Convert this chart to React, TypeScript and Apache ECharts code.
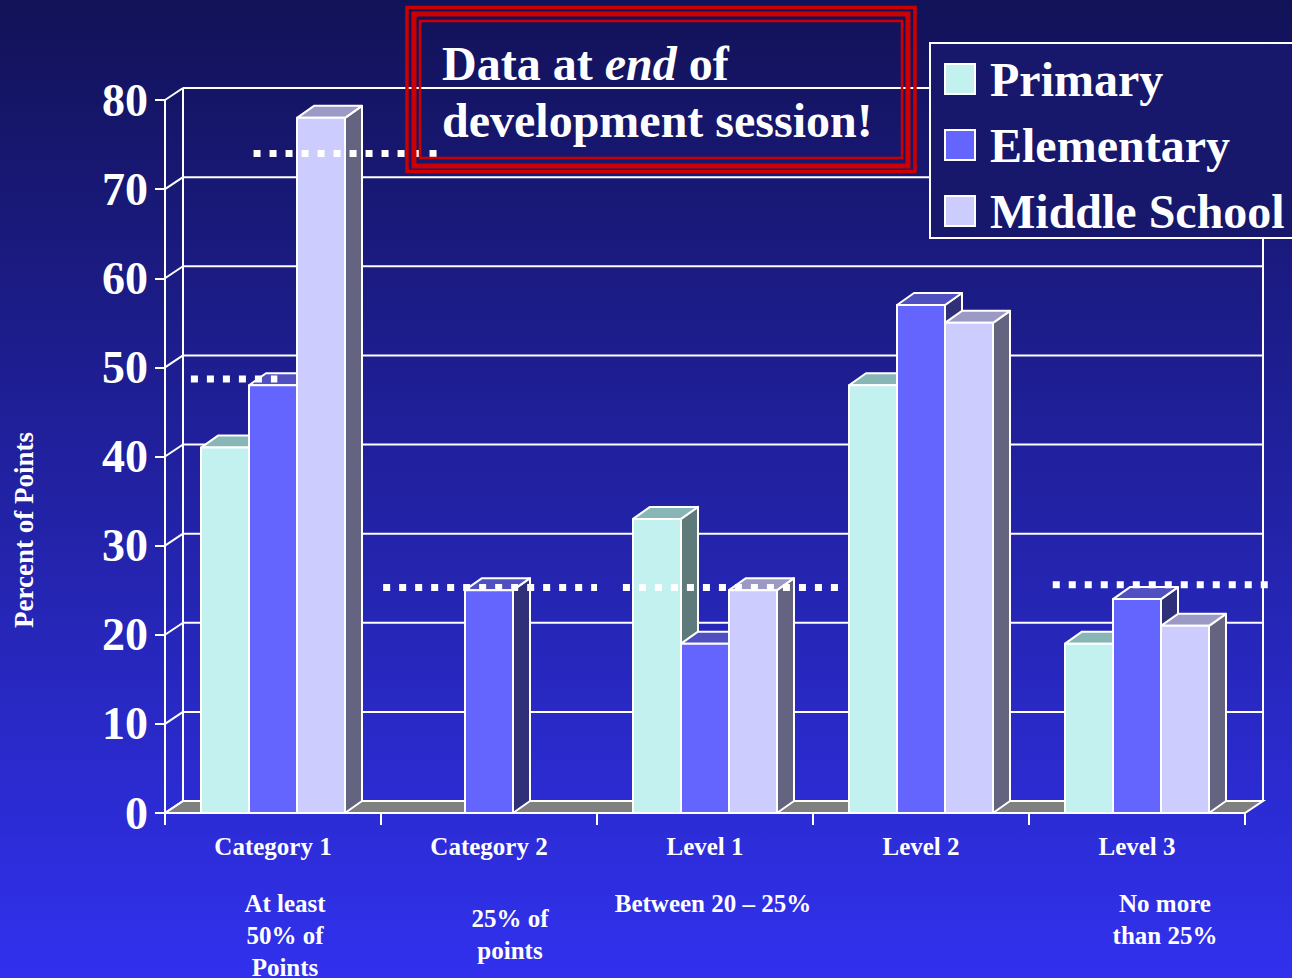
import React, { useEffect, useRef } from 'react';
import * as echarts from 'echarts';

const categories = ['Category 1', 'Category 2', 'Level 1', 'Level 2', 'Level 3'];
const subLabels = ['At least\n50% of\nPoints', '25% of\npoints', 'Between 20 – 25%', '', 'No more\nthan 25%'];
const seriesNames = ['Primary', 'Elementary', 'Middle School'];
const primary = [41, 0, 33, 48, 19];
const elementary = [48, 25, 19, 57, 24];
const middle = [78, 0, 25, 55, 21];
const yTicks = [0, 10, 20, 30, 40, 50, 60, 70, 80];
// target dotted lines: value, start / end as category-band fractions
const targetValues = [74, 48.7, 25.3, 25.3, 25.6];
const targetStart = [0.41, 0.12, 1.01, 2.12, 4.11];
const targetEnd = [1.26, 0.52, 2.0, 3.12, 5.12];

// layout (not data)
const subLabelDX = [12, 21, 8, 0, 28];
const subLabelTop = [887, 902, 887, 887, 887];
const WX = 18, WY = -12; // wall depth
const BX = 17, BY = -12; // bar depth
const FONT = '"Liberation Serif", "Times New Roman", serif';

const palette = [
  { front: '#c2f1ef', top: '#88b6b6', side: '#5f7a7a' },
  { front: '#6464ff', top: '#5050c0', side: '#303078' },
  { front: '#ccccff', top: '#9a9ac4', side: '#646480' },
];

const makeBar = (name: string, values: number[], idx: number) => ({
  type: 'custom',
  name,
  data: values.map((v, i) => [i, v]),
  itemStyle: { color: palette[idx].front },
  renderItem: (params: any, api: any) => {
    const c = api.value(0);
    const v = api.value(1);
    if (!v) return null;
    const b = api.coord([c, 0]);
    const t = api.coord([c, v]);
    const cw = api.size([1, 0])[0];
    const bw = (cw * 2) / 9;
    const x0 = b[0] - cw / 3 + idx * bw;
    const x1 = x0 + bw;
    const ty = t[1];
    const by = b[1];
    const st = { stroke: '#ffffff', lineWidth: 2, lineJoin: 'round' };
    const col = palette[idx];
    return {
      type: 'group',
      children: [
        { type: 'polygon', shape: { points: [[x1, ty], [x1 + BX, ty + BY], [x1 + BX, by + BY], [x1, by]] }, style: { ...st, fill: col.side } },
        { type: 'polygon', shape: { points: [[x0, ty], [x0 + BX, ty + BY], [x1 + BX, ty + BY], [x1, ty]] }, style: { ...st, fill: col.top } },
        { type: 'rect', shape: { x: x0, y: ty, width: bw, height: by - ty }, style: { ...st, fill: col.front } },
      ],
    };
  },
});

export default function App() {
  const ref = useRef<HTMLDivElement>(null);
  useEffect(() => {
    document.body.style.margin = '0';
    const chart = echarts.init(ref.current!, null, { renderer: 'svg' });
    const yMax = yTicks[yTicks.length - 1];
    const option: any = {
      animation: false,
      backgroundColor: {
        type: 'linear', x: 0, y: 0, x2: 0, y2: 1,
        colorStops: [
          { offset: 0, color: '#121258' },
          { offset: 1, color: '#3131ee' },
        ],
      },
      grid: { left: 165, right: 47, top: 100, bottom: 165 },
      xAxis: {
        type: 'category',
        data: categories,
        boundaryGap: true,
        axisLine: { show: true, lineStyle: { color: '#ffffff', width: 2 } },
        axisTick: { show: true, interval: 0, length: 12, lineStyle: { color: '#ffffff', width: 2 } },
        axisLabel: { interval: 0, color: '#ffffff', fontSize: 25, fontWeight: 'bold', fontFamily: FONT, margin: 21 },
        splitLine: { show: false },
      },
      yAxis: {
        type: 'value',
        min: 0,
        max: yMax,
        interval: 10,
        axisLine: { show: true, lineStyle: { color: '#ffffff', width: 2 } },
        axisTick: { show: true, length: 10, lineStyle: { color: '#ffffff', width: 2 } },
        axisLabel: { color: '#ffffff', fontSize: 46, fontWeight: 'bold', fontFamily: FONT, margin: 17 },
        splitLine: { show: false },
      },
      legend: {
        orient: 'vertical',
        left: 930,
        top: 43,
        padding: [12, 30, 3, 14],
        itemWidth: 30,
        itemHeight: 30,
        itemGap: 18,
        selectedMode: false,
        backgroundColor: '#17176b',
        borderColor: '#ffffff',
        borderWidth: 2,
        textStyle: { color: '#ffffff', fontSize: 48, fontWeight: 'bold', fontFamily: FONT, padding: [0, 0, 0, 10] },
        data: seriesNames.map((n, i) => ({
          name: n,
          icon: 'rect',
          itemStyle: { color: palette[i].front, borderColor: '#ffffff', borderWidth: 2 },
        })),
      },
      graphic: [
        { type: 'rect', z: 50, shape: { x: 407, y: 7.5, width: 508, height: 164 }, style: { fill: 'none', stroke: '#cc0000', lineWidth: 3.5 } },
        { type: 'rect', z: 50, shape: { x: 414, y: 14, width: 494, height: 152 }, style: { fill: 'none', stroke: '#cc0000', lineWidth: 5 } },
        { type: 'rect', z: 50, shape: { x: 420, y: 21, width: 482, height: 137 }, style: { fill: 'none', stroke: '#cc0000', lineWidth: 2.5 } },
        {
          type: 'text', z: 51, x: 442, y: 35,
          style: {
            text: '{a|Data at }{b|end}{a| of}\n{a|development session!}',
            verticalAlign: 'top',
            rich: {
              a: { fill: '#ffffff', fontSize: 48, fontWeight: 'bold', fontFamily: FONT, lineHeight: 57 },
              b: { fill: '#ffffff', fontSize: 48, fontWeight: 'bold', fontStyle: 'italic', fontFamily: FONT, lineHeight: 57 },
            },
          },
        },
        {
          type: 'text', z: 51, x: 24, y: 530, rotation: Math.PI / 2,
          style: { text: 'Percent of Points', fill: '#ffffff', fontSize: 27, fontWeight: 'bold', fontFamily: FONT, align: 'center', verticalAlign: 'middle' },
        },
      ],
      series: [
        {
          type: 'custom',
          name: 'walls',
          silent: true,
          data: yTicks.map((v) => [0, v]),
          renderItem: (params: any, api: any) => {
            const v = api.value(1);
            const cs = params.coordSys;
            const y = api.coord([0, v])[1];
            const xl = cs.x;
            const xr = cs.x + cs.width;
            const ls = { stroke: '#ffffff', lineWidth: 2 };
            const children: any[] = [];
            if (v === 0) {
              const yTop = api.coord([0, yMax])[1];
              children.push({ type: 'line', shape: { x1: xl + WX, y1: y + WY, x2: xl + WX, y2: yTop + WY }, style: ls });
              children.push({ type: 'line', shape: { x1: xr + WX, y1: y + WY, x2: xr + WX, y2: yTop + WY }, style: ls });
              children.push({ type: 'polygon', shape: { points: [[xl, y], [xr, y], [xr + WX, y + WY], [xl + WX, y + WY]] }, style: { fill: '#808080', stroke: '#ffffff', lineWidth: 2 } });
            } else {
              children.push({ type: 'line', shape: { x1: xl + WX, y1: y + WY, x2: xr + WX, y2: y + WY }, style: ls });
            }
            children.push({ type: 'line', shape: { x1: xl, y1: y, x2: xl + WX, y2: y + WY }, style: ls });
            return { type: 'group', children };
          },
        },
        makeBar(seriesNames[0], primary, 0),
        makeBar(seriesNames[1], elementary, 1),
        makeBar(seriesNames[2], middle, 2),
        {
          type: 'custom',
          name: 'targets',
          silent: true,
          data: targetValues.map((v) => [0, v]),
          renderItem: (params: any, api: any) => {
            const i = params.dataIndex;
            const v = api.value(1);
            const cw = api.size([1, 0])[0];
            const p = api.coord([0, v]);
            const left = p[0] - cw / 2;
            return {
              type: 'line',
              shape: { x1: left + targetStart[i] * cw, y1: p[1], x2: left + targetEnd[i] * cw, y2: p[1] },
              style: { stroke: '#ffffff', lineWidth: 7, lineDash: [7, 9] },
            };
          },
        },
        {
          type: 'custom',
          name: 'subLabels',
          silent: true,
          data: categories.map((c, i) => [i, 0]),
          renderItem: (params: any, api: any) => {
            const i = params.dataIndex;
            const p = api.coord([i, 0]);
            return {
              type: 'text',
              x: p[0] + subLabelDX[i],
              y: subLabelTop[i],
              style: {
                text: subLabels[i],
                fill: '#ffffff',
                fontSize: 25,
                fontWeight: 'bold',
                fontFamily: FONT,
                align: 'center',
                verticalAlign: 'top',
                lineHeight: 32,
              },
            };
          },
        },
      ],
    };
    chart.setOption(option);
    return () => chart.dispose();
  }, []);
  return <div ref={ref} style={{ position: 'absolute', left: 0, top: 0, width: 1292, height: 978 }} />;
}
